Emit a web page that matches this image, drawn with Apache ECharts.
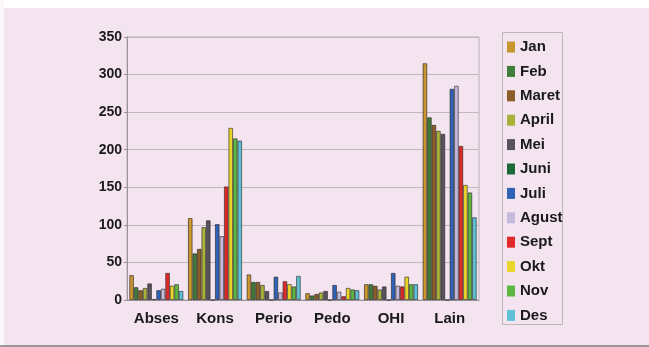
<!DOCTYPE html>
<html>
<head>
<meta charset="utf-8">
<script src="https://cdn.jsdelivr.net/npm/echarts@6/dist/echarts.min.js"></script>
<style>
  html, body { margin: 0; padding: 0; background: #ffffff; }
  #chart { width: 649px; height: 347px; }
</style>
</head>
<body>
<div id="chart"></div>
<script>
// Kategori kasus
const categories = ['Abses', 'Kons', 'Perio', 'Pedo', 'OHI', 'Lain'];

// Jumlah kasus per bulan, urutan sesuai kategori
const jan   = [33, 109, 34, 9, 21, 315];
const feb   = [17, 62, 24, 6, 21, 243];
const maret = [13, 68, 24, 8, 19, 233];
const april = [16, 97, 20, 10, 14, 225];
const mei   = [22, 106, 12, 12, 18, 221];
const juni  = [1, 0, 0, 0, 0, 0];
const juli  = [13, 101, 31, 20, 36, 281];
const agust = [15, 85, 10, 11, 19, 285];
const sept  = [36, 151, 25, 5, 18, 205];
const okt   = [19, 229, 21, 16, 31, 153];
const nov   = [21, 215, 18, 14, 21, 143];
const des   = [12, 212, 32, 13, 21, 110];

const yTicks = [0, 50, 100, 150, 200, 250, 300, 350];

const months = [
  { name: 'Jan',   data: jan,   color: '#c8952f' },
  { name: 'Feb',   data: feb,   color: '#3f7d38' },
  { name: 'Maret', data: maret, color: '#8b5e27' },
  { name: 'April', data: april, color: '#aab23c' },
  { name: 'Mei',   data: mei,   color: '#58535e' },
  { name: 'Juni',  data: juni,  color: '#1d6a38' },
  { name: 'Juli',  data: juli,  color: '#2e63b8' },
  { name: 'Agust', data: agust, color: '#c3bade' },
  { name: 'Sept',  data: sept,  color: '#e02a2a' },
  { name: 'Okt',   data: okt,   color: '#ead62a' },
  { name: 'Nov',   data: nov,   color: '#5db842' },
  { name: 'Des',   data: des,   color: '#5ec1d8' }
];

const chart = echarts.init(document.getElementById('chart'), null, { renderer: 'canvas' });

const fontFamily = '"Liberation Sans", Arial, sans-serif';

chart.setOption({
  backgroundColor: '#f3e4f0',
  animation: false,
  graphic: [
    { type: 'rect', shape: { x: 0, y: 0, width: 649, height: 8 }, style: { fill: '#ffffff' }, z: -1 },
    { type: 'rect', shape: { x: 0, y: 0, width: 4, height: 347 }, style: { fill: '#fbf6fa' }, z: -1 },
    { type: 'rect', shape: { x: 0, y: 345, width: 649, height: 2 }, style: { fill: '#9a979a' }, z: -1 },
    // legend frame
    { type: 'rect', shape: { x: 502.5, y: 32.5, width: 60, height: 292 },
      style: { fill: 'none', stroke: '#bdb6bc', lineWidth: 1 }, z: 0 }
  ],
  grid: {
    left: 127, right: 170, top: 37, bottom: 47,
    show: true,
    borderColor: '#b9b2b8',
    borderWidth: 1,
    backgroundColor: 'transparent'
  },
  legend: {
    orient: 'vertical',
    left: 502,
    top: 33,
    padding: [6, 0, 6, 5],
    itemWidth: 8,
    itemHeight: 11,
    itemGap: 8.4,
    icon: 'rect',
    itemStyle: { borderWidth: 0 },
    textStyle: {
      fontFamily: fontFamily,
      fontWeight: 'bold',
      fontSize: 15,
      color: '#1a1a1a',
      lineHeight: 16
    },
    data: months.map(m => m.name)
  },
  xAxis: {
    type: 'category',
    data: categories,
    axisLine: { show: true, lineStyle: { color: '#9a949a', width: 1 } },
    axisTick: { show: false },
    axisLabel: {
      margin: 11,
      fontFamily: fontFamily,
      fontWeight: 'bold',
      fontSize: 15,
      color: '#1a1a1a'
    }
  },
  yAxis: {
    type: 'value',
    min: yTicks[0],
    max: yTicks[yTicks.length - 1],
    interval: 50,
    axisLine: { show: true, lineStyle: { color: '#9a949a', width: 1 } },
    axisTick: { show: true, length: 3, lineStyle: { color: '#9a949a' } },
    splitLine: { show: true, lineStyle: { color: '#bfb8be', width: 1 } },
    axisLabel: {
      margin: 5,
      fontFamily: fontFamily,
      fontWeight: 'bold',
      fontSize: 14,
      color: '#1a1a1a'
    }
  },
  series: months.map(m => ({
    name: m.name,
    type: 'bar',
    data: m.data,
    barGap: '0%',
    barCategoryGap: '8%',
    itemStyle: {
      color: m.color,
      borderColor: 'rgba(35,30,30,0.75)',
      borderWidth: 0.8
    }
  }))
});
</script>
</body>
</html>
